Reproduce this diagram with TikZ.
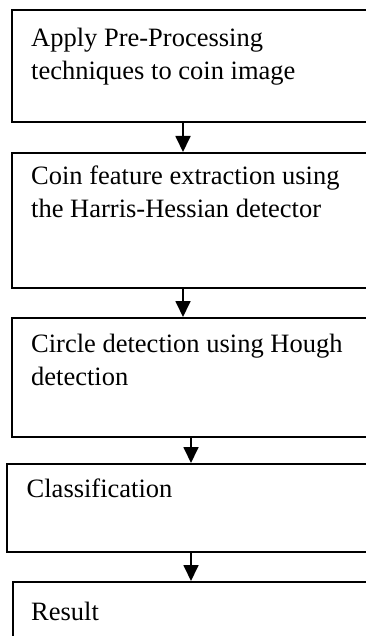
\documentclass[tikz,border=0pt]{standalone}
\usepackage{fontspec}
\setmainfont{Liberation Serif}
\usetikzlibrary{arrows.meta}
\begin{document}
\begin{tikzpicture}[x=1pt,y=-1pt,
  box/.style={draw=black,line width=1.8pt,fill=none},
  lbl/.style={anchor=base west,inner sep=0pt,align=left,font=\fontsize{26.5}{33}\selectfont},
  arr/.style={line width=1.8pt,-{Triangle[width=15pt,length=16pt]}}]
\path[use as bounding box] (0,0) rectangle (366,636);
\clip (0,0) rectangle (366,636);
\fill[white] (0,0) rectangle (366,636);
% boxes
\node[box,anchor=north west,minimum width=380pt,minimum height=112pt,inner sep=0pt] (b1) at (11,9) {};
\node[box,anchor=north west,minimum width=380pt,minimum height=135pt,inner sep=0pt] (b2) at (11,152) {};
\node[box,anchor=north west,minimum width=380pt,minimum height=119pt,inner sep=0pt] (b3) at (11,317) {};
\node[box,anchor=north west,minimum width=380pt,minimum height=88pt,inner sep=0pt] (b4) at (6,463) {};
\node[box,anchor=north west,minimum width=380pt,minimum height=80pt,inner sep=0pt] (b5) at (12,581) {};
% texts (base = baseline of last line)
\node[lbl] (t1) at (31,79.5) {Apply Pre-Processing\\techniques to coin image};
\node[lbl] (t2) at (31,217.5) {Coin feature extraction using\\the Harris-Hessian detector};
\node[lbl] (t3) at (31,385) {Circle detection using Hough\\detection};
\node[lbl] (t4) at (26.5,497.5) {Classification};
\node[lbl] (t5) at (31,620) {Result};
% arrows
\coordinate (x1) at (183,0);
\coordinate (x2) at (191,0);
\draw[arr] (b1.south -| x1) -- (b2.north -| x1);
\draw[arr] (b2.south -| x1) -- (b3.north -| x1);
\draw[arr] (b3.south -| x2) -- (b4.north -| x2);
\draw[arr] (b4.south -| x2) -- (b5.north -| x2);
\end{tikzpicture}
\end{document}
